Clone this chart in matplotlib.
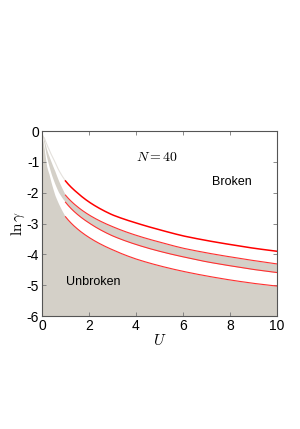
import numpy as np
import matplotlib
matplotlib.use('Agg')
import matplotlib.pyplot as plt

plt.rcParams['font.family'] = ['Liberation Sans', 'DejaVu Sans']
plt.rcParams['mathtext.fontset'] = 'cm'
plt.rcParams['axes.unicode_minus'] = False

# curve values
u_left = [0.0, 0.05, 0.1, 0.2, 0.3, 0.4, 0.55, 0.7, 0.85, 1.0]
u_right = [1.0, 1.5, 2, 3, 4, 5, 6, 7, 8, 9, 10]

c1_left = [0.0, -0.12, -0.22, -0.42, -0.6, -0.77, -1.0, -1.25, -1.45, -1.62]
c2_left = [0.0, -0.16, -0.3, -0.6, -0.82, -1.02, -1.3, -1.6, -1.85, -2.08]
c3_left = [0.0, -0.25, -0.45, -0.85, -1.15, -1.41, -1.72, -1.98, -2.16, -2.31]
c4_left = [0.0, -0.35, -0.6, -1.15, -1.4, -1.7, -2.08, -2.35, -2.58, -2.78]

c1 = [-1.62, -2.0, -2.3, -2.72, -2.98, -3.2, -3.4, -3.55, -3.68, -3.8, -3.9]
c2 = [-2.08, -2.45, -2.72, -3.1, -3.38, -3.6, -3.8, -3.95, -4.08, -4.2, -4.31]
c3 = [-2.31, -2.7, -2.98, -3.4, -3.68, -3.9, -4.08, -4.24, -4.37, -4.49, -4.59]
c4 = [-2.78, -3.17, -3.45, -3.85, -4.15, -4.37, -4.55, -4.7, -4.83, -4.94, -5.03]

gray = '#d4d0c8'

# smooth the read points: left part in sqrt(U), right part in ln(U)
uL = np.array(u_left)
uR = np.array(u_right)
ul_f = np.linspace(0, 1, 200)
ur_f = np.linspace(1, 10, 300)


def left(c):
    return np.interp(np.sqrt(ul_f), np.sqrt(uL), c)


def right(c):
    return np.interp(np.log(ur_f), np.log(uR), c)


u_all = np.concatenate([ul_f, ur_f[1:]])
c2_all = np.concatenate([left(c2_left), right(c2)[1:]])
c3_all = np.concatenate([left(c3_left), right(c3)[1:]])
c4_all = np.concatenate([left(c4_left), right(c4)[1:]])

fig = plt.figure(figsize=(3.0, 4.29), dpi=100)
ax = fig.add_axes([0.14, 0.2634, 0.783, 0.4312])

ax.fill_between(u_all, c3_all, c2_all, color=gray, lw=0)
ax.fill_between(u_all, -6, c4_all, color=gray, lw=0)
ax.plot(ul_f[20:], left(c1_left)[20:], color='#e4e1dc', lw=0.8)

ax.plot(ur_f, right(c1), color='#ff0000', lw=1.1)
ax.plot(ur_f, right(c2), color='#ff3030', lw=0.8)
ax.plot(ur_f, right(c3), color='#ff3030', lw=0.8)
ax.plot(ur_f, right(c4), color='#ff3030', lw=0.8)

ax.set_xlim(0, 10)
ax.set_ylim(-6, 0)
ax.set_xticks([0, 2, 4, 6, 8, 10])
ax.set_yticks([0, -1, -2, -3, -4, -5, -6])
ax.tick_params(direction='in', length=3, width=0.6, color='#777777',
               top=True, right=True, labelsize=10, pad=2)
for s in ax.spines.values():
    s.set_color('#555555')
    s.set_linewidth(0.8)

ax.text(4.9, -0.84, r'$N=40$', ha='center', va='center', fontsize=10)
ax.text(8.1, -1.66, 'Broken', ha='center', va='center', fontsize=9)
ax.text(2.17, -4.9, 'Unbroken', ha='center', va='center', fontsize=9)

ax.set_xlabel(r'$U$', fontsize=11, labelpad=0)
ax.set_ylabel(r'$\ln\gamma$', fontsize=11, labelpad=0)

fig.savefig('out.png', dpi=100)
